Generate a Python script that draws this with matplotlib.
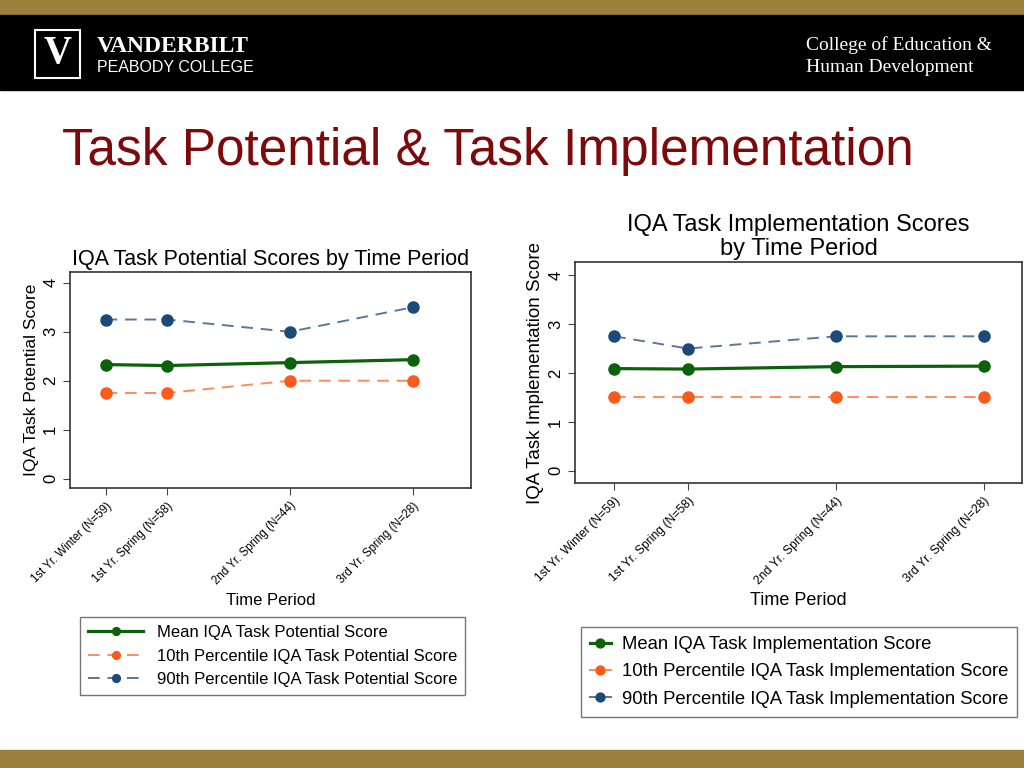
import matplotlib.pyplot as plt
from matplotlib.patches import Rectangle

plt.rcParams['font.family'] = ['Liberation Sans', 'DejaVu Sans']

# data
periods = ["1st Yr. Winter (N=59)", "1st Yr. Spring (N=58)",
           "2nd Yr. Spring (N=44)", "3rd Yr. Spring (N=28)"]
period_pos = [0, 1, 3, 5]

pot_mean = [2.33, 2.31, 2.37, 2.43]
pot_p10 = [1.75, 1.75, 2.0, 2.0]
pot_p90 = [3.25, 3.25, 3.0, 3.5]

imp_mean = [2.09, 2.08, 2.13, 2.14]
imp_p10 = [1.5, 1.5, 1.5, 1.5]
imp_p90 = [2.75, 2.5, 2.75, 2.75]

green = "#0b620b"
orange = "#fa5a1a"
navy = "#1c4a78"
orange_line = "#ff8a5c"
navy_line = "#5a7898"
gold = "#9b7f3c"

fig = plt.figure(figsize=(10.24, 7.68), dpi=100)

# slide frame
fig.patches.append(Rectangle((0, 1 - 15 / 768), 1, 15 / 768, transform=fig.transFigure, color=gold))
fig.patches.append(Rectangle((0, 1 - 90 / 768), 1, 75 / 768, transform=fig.transFigure, color="black"))
fig.patches.append(Rectangle((0, 0), 1, 18 / 768, transform=fig.transFigure, color=gold))
fig.patches.append(Rectangle((35 / 1024, 1 - 78 / 768), 45 / 1024, 48 / 768, transform=fig.transFigure,
                             facecolor="black", edgecolor="white", lw=1.5))
fig.text(57.5 / 1024, 1 - 54 / 768, "V", color="white", family="Liberation Serif", fontweight="bold",
         fontsize=28, ha="center", va="center")
fig.text(97 / 1024, 1 - 46 / 768, "VANDERBILT", color="white", family="Liberation Serif",
         fontweight="bold", fontsize=17, va="center")
fig.text(97 / 1024, 1 - 67 / 768, "PEABODY COLLEGE", color="white", fontsize=11.5, va="center")
fig.text(806 / 1024, 1 - 45 / 768, "College of Education &", color="white", family="Liberation Serif",
         fontsize=14, va="center")
fig.text(806 / 1024, 1 - 67 / 768, "Human Development", color="white", family="Liberation Serif",
         fontsize=14, va="center")

fig.text(62 / 1024, 1 - 152 / 768, "Task Potential & Task Implementation", color="#7d0a0a",
         fontsize=37, va="center")


def panel(rect, mean, p10, p90, names, title, ylabel, xlim, ylim, fs, tfs, lfs):
    ax = fig.add_axes(rect)
    ax.plot(period_pos, mean, color=green, lw=2.3, marker="o", ms=8, mfc=green, mec=green, label=names[0])
    ax.plot(period_pos, p10, color=orange_line, lw=1.4, ls=(0, (6, 4)), marker="o", ms=8,
            mfc=orange, mec=orange, label=names[1])
    ax.plot(period_pos, p90, color=navy_line, lw=1.4, ls=(0, (6, 4)), marker="o", ms=8,
            mfc=navy, mec=navy, label=names[2])
    ax.set_xlim(*xlim)
    ax.set_ylim(*ylim)
    ax.set_yticks([0, 1, 2, 3, 4])
    ax.set_xticks(period_pos)
    ax.set_xticklabels(periods, rotation=45, ha="right", rotation_mode="anchor", fontsize=tfs)
    for t in ax.get_yticklabels():
        t.set_rotation(90)
        t.set_va("center")
        t.set_fontsize(12)
    ax.tick_params(direction="out", length=5, color="#444444")
    for s in ax.spines.values():
        s.set_color("#333333")
        s.set_linewidth(1.2)
    ax.set_title(title, fontsize=fs, pad=5, linespacing=1.1)
    ax.set_ylabel(ylabel, fontsize=lfs, labelpad=3)
    ax.set_xlabel("Time Period", fontsize=lfs - 0.5, labelpad=4)
    return ax


ax1 = panel([70 / 1024, 1 - 488 / 768, 401 / 1024, 216 / 768], pot_mean, pot_p10, pot_p90,
            ["Mean IQA Task Potential Score", "10th Percentile IQA Task Potential Score",
             "90th Percentile IQA Task Potential Score"],
            "IQA Task Potential Scores by Time Period", "IQA Task Potential Score",
            (-0.58, 5.95), (-0.19, 4.22), 15.5, 8.3, 12.5)
ax2 = panel([575 / 1024, 1 - 483 / 768, 447 / 1024, 221 / 768], imp_mean, imp_p10, imp_p90,
            ["Mean IQA Task Implementation Score", "10th Percentile IQA Task Implementation Score",
             "90th Percentile IQA Task Implementation Score"],
            "IQA Task Implementation Scores\nby Time Period", "IQA Task Implementation Score",
            (-0.53, 5.52), (-0.25, 4.27), 17, 8.7, 13.5)

leg1 = ax1.legend(loc="upper left", bbox_to_anchor=(80 / 1024, 1 - 617 / 768),
                  bbox_transform=fig.transFigure, fontsize=12, handlelength=3.3, handletextpad=0.8,
                  markerscale=0.7, frameon=True, fancybox=False, edgecolor="#555555",
                  borderpad=0.5, labelspacing=0.5, borderaxespad=0)
leg2 = ax2.legend(loc="upper left", bbox_to_anchor=(581 / 1024, 1 - 627 / 768),
                  bbox_transform=fig.transFigure, fontsize=13.3, handlelength=1.1, handletextpad=0.6,
                  markerscale=0.8, frameon=True, fancybox=False, edgecolor="#555555",
                  borderpad=0.5, labelspacing=0.55, borderaxespad=0)
for leg in (leg1, leg2):
    leg.get_frame().set_linewidth(1.0)
for h in leg2.legend_handles:
    h.set_linestyle("-")

fig.savefig("out.png", dpi=100)
